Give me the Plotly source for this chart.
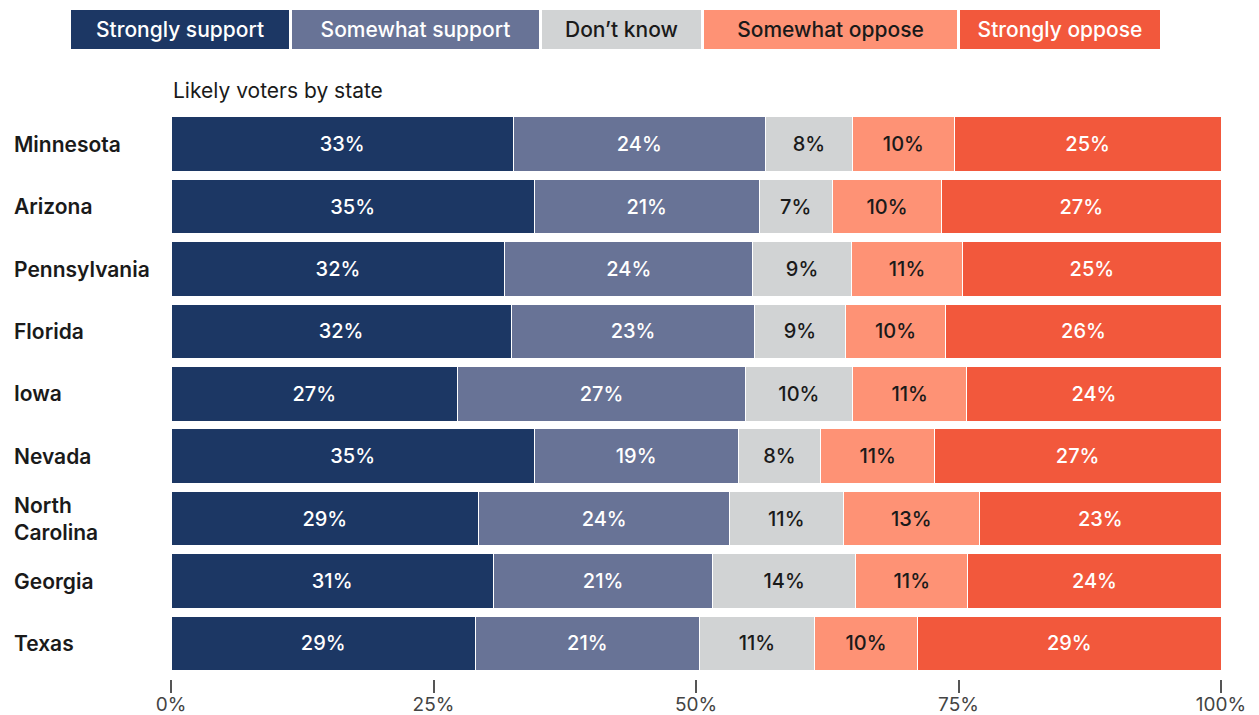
import plotly.graph_objects as go

states = ["Minnesota", "Arizona", "Pennsylvania", "Florida", "Iowa",
          "Nevada", "North Carolina", "Georgia", "Texas"]
state_labels = ["Minnesota", "Arizona", "Pennsylvania", "Florida", "Iowa",
                "Nevada", "North<br>Carolina", "Georgia", "Texas"]

categories = ["Strongly support", "Somewhat support", "Don\u2019t know",
              "Somewhat oppose", "Strongly oppose"]

strongly_support = [32.6, 34.6, 31.8, 32.4, 27.3, 34.6, 29.3, 30.7, 29.0]
somewhat_support = [24.0, 21.4, 23.6, 23.2, 27.4, 19.4, 23.9, 20.9, 21.3]
dont_know        = [8.3, 7.0, 9.4, 8.6, 10.2, 7.9, 10.8, 13.6, 11.0]
somewhat_oppose  = [9.7, 10.4, 10.6, 9.6, 10.9, 10.8, 13.0, 10.7, 9.8]
strongly_oppose  = [25.4, 26.6, 24.6, 26.2, 24.2, 27.3, 23.0, 24.1, 28.9]

series = [strongly_support, somewhat_support, dont_know, somewhat_oppose, strongly_oppose]
colors = ["#1c3764", "#687396", "#d1d3d4", "#fe9275", "#f2583c"]
text_colors = ["#ffffff", "#ffffff", "#1a1a1a", "#1a1a1a", "#ffffff"]

tick_vals = [0, 25, 50, 75, 100]
tick_text = ["0%", "25%", "50%", "75%", "100%"]

FONT = "Inter"
OFF = 8  # page body margin
W, H = 1259 - OFF, 715 - OFF
L, R, T, B = 163, 38, 105, 36
PW, PH = W - L - R, H - T - B

def px_x(px):
    return (px - OFF - L) / PW

def px_y(py):
    return (H - B - (py - OFF)) / PH

fig = go.Figure()
for name, vals, c, tc in zip(categories, series, colors, text_colors):
    fig.add_trace(go.Bar(
        y=states, x=vals, name=name, orientation="h",
        marker=dict(color=c, line=dict(color="white", width=1)),
        texttemplate="%{x:.0f}%", textposition="inside",
        insidetextanchor="middle",
        textfont=dict(family=FONT, size=20, color=tc, weight=500),
        hovertemplate="%{y}: %{x:.1f}%<extra>" + name + "</extra>",
        showlegend=False,
    ))

annotations = []
for s, lab in zip(states, state_labels):
    annotations.append(dict(
        x=px_x(12), xref="paper", y=s, yref="y", text=lab, showarrow=False,
        xanchor="left", yanchor="middle", align="left",
        font=dict(family=FONT, size=21, color="#1a1a1a", weight=600),
    ))

annotations.append(dict(
    x=0, xref="paper", y=px_y(91), yref="paper", text="Likely voters by state",
    showarrow=False, xanchor="left", yanchor="middle",
    font=dict(family=FONT, size=21, color="#1a1a1a"),
))

boxes = [(71, 289), (292, 539), (542, 701), (704, 957), (960, 1160)]
for (x0, x1), name, c, tc in zip(boxes, categories, colors, text_colors):
    annotations.append(dict(
        x=px_x((x0 + x1) / 2), xref="paper", y=px_y(29.5), yref="paper",
        text=name, showarrow=False, xanchor="center", yanchor="middle",
        width=x1 - x0, height=39, bgcolor=c, borderpad=0, borderwidth=0,
        font=dict(family=FONT, size=21, color=tc, weight=500),
    ))

fig.update_layout(
    barmode="stack", bargap=0.125,
    width=W, height=H,
    margin=dict(l=L, r=R, t=T, b=B, autoexpand=False),
    plot_bgcolor="white", paper_bgcolor="white",
    font=dict(family=FONT, color="#1a1a1a"),
    annotations=annotations,
    xaxis=dict(range=[0, 100], tickvals=tick_vals, ticktext=tick_text,
               showgrid=False, zeroline=False, showline=False,
               ticks="outside", ticklen=13, tickwidth=1.5, tickcolor="#555555",
               ticklabelstandoff=-5,
               tickfont=dict(family=FONT, size=19, color="#444444"),
               fixedrange=True),
    yaxis=dict(categoryorder="array", categoryarray=states,
               range=[8.57, -0.5], showticklabels=False, showgrid=False,
               zeroline=False, showline=False, fixedrange=True),
)

fig.write_html("out.html")
